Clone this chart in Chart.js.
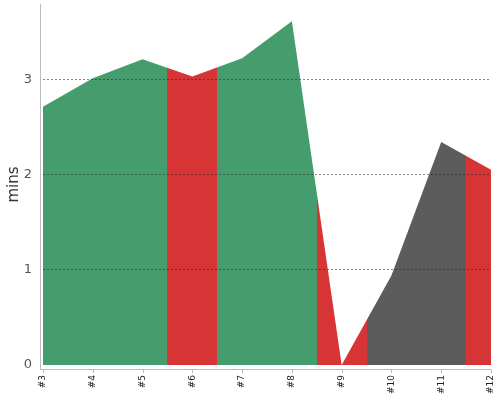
<!DOCTYPE html>
<html>
<head>
<meta charset="utf-8">
<script src="https://cdn.jsdelivr.net/npm/chart.js@4"></script>
<style>
html,body{margin:0;padding:0;background:#fff;}
#wrap{width:500px;height:400px;}
</style>
</head>
<body>
<div id="wrap"><canvas id="c" width="500" height="400"></canvas></div>
<script>
const categories = ["#3","#4","#5","#6","#7","#8","#9","#10","#11","#12"];
const durations = [2.71, 3.01, 3.21, 3.03, 3.22, 3.61, 0, 0.94, 2.34, 2.05];
const statuses = ["pass","pass","pass","fail","pass","pass","fail","aborted","aborted","fail"];
const yTicks = [0, 1, 2, 3];
const statusColors = {pass: "#459c6c", fail: "#d73535", aborted: "#5c5c5c"};

function areaFill(ctx) {
  const chart = ctx.chart;
  const area = chart.chartArea;
  const xs = chart.scales.x;
  if (!area || !xs) return statusColors.pass;
  const w = area.right - area.left;
  const g = chart.ctx.createLinearGradient(area.left, 0, area.right, 0);
  const clamp = v => Math.max(0, Math.min(1, v));
  statuses.forEach((s, i) => {
    const a = clamp((xs.getPixelForValue(i - 0.5) - area.left) / w);
    const b = clamp((xs.getPixelForValue(i + 0.5) - area.left) / w);
    g.addColorStop(a, statusColors[s]);
    g.addColorStop(b, statusColors[s]);
  });
  return g;
}

const axisLines = {
  id: 'axisLines',
  afterDraw(chart) {
    const {ctx, chartArea: a, scales} = chart;
    ctx.save();
    ctx.strokeStyle = '#bbbbbb';
    ctx.lineWidth = 1;
    const lx = a.left - 2.5, by = a.bottom + 4.5;
    ctx.beginPath();
    ctx.moveTo(lx, a.top);
    ctx.lineTo(lx, by);
    ctx.lineTo(a.right, by);
    categories.forEach((c, i) => {
      const px = Math.round(scales.x.getPixelForValue(i)) + 0.5;
      ctx.moveTo(px, by);
      ctx.lineTo(px, by + 3.5);
    });
    ctx.stroke();
    ctx.restore();
  }
};

new Chart(document.getElementById('c'), {
  type: 'line',
  data: {
    labels: categories,
    datasets: [{
      data: durations,
      fill: 'origin',
      backgroundColor: areaFill,
      borderWidth: 0,
      borderColor: 'rgba(0,0,0,0)',
      pointRadius: 0,
      tension: 0
    }]
  },
  options: {
    responsive: false,
    animation: false,
    layout: {padding: {left: 0, right: 9, top: 4, bottom: 0}},
    plugins: {legend: {display: false}, tooltip: {enabled: false}},
    scales: {
      x: {
        offset: false,
        grid: {display: false, drawTicks: false},
        border: {display: false},
        afterFit(s) { s.height = 35; s.paddingLeft = 0; s.paddingRight = 0; },
        ticks: {
          minRotation: 90, maxRotation: 90, padding: 10,
          color: '#222', font: {family: 'DejaVu Sans', size: 9}
        }
      },
      y: {
        min: 0, max: 3.79,
        afterFit(s) { s.width = 43; s.paddingTop = 0; s.paddingBottom = 0; },
        afterBuildTicks(s) { s.ticks = yTicks.map(v => ({value: v})); },
        border: {display: false, dash: [2, 2]},
        grid: {
          z: 1,
          drawTicks: false,
          color: c => c.tick && c.tick.value === 0 ? 'rgba(0,0,0,0)' : 'rgba(40,40,40,0.55)',
          lineWidth: 1
        },
        ticks: {
          padding: 11,
          color: '#555', font: {family: 'DejaVu Sans', size: 13}
        },
        title: {
          display: true, text: 'mins', color: '#333',
          font: {family: 'DejaVu Sans', size: 15}, padding: {top: 5, bottom: 0}
        }
      }
    }
  },
  plugins: [axisLines]
});
</script>
</body>
</html>
